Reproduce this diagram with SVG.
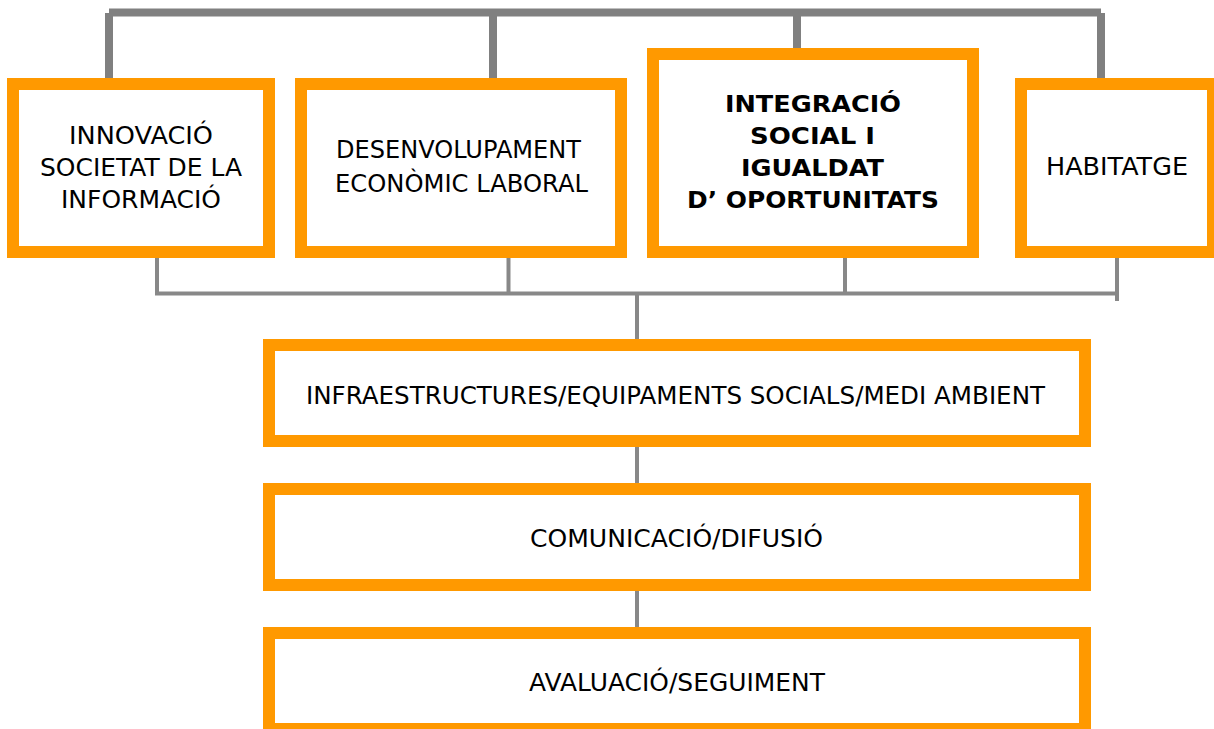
<svg xmlns="http://www.w3.org/2000/svg" width="1214" height="729" viewBox="0 0 1214 729">
<style>
.box{fill:#fff;stroke:#FF9900;stroke-width:12}
.t{font-family:"DejaVu Sans","Liberation Sans",sans-serif;font-size:25px;fill:#000}
.b{font-weight:bold;font-size:23.5px}
.c1{stroke:#808080;stroke-width:8;fill:none}
.c2{stroke:#888;stroke-width:4;fill:none}
</style>
<rect width="1214" height="729" fill="#fff"/>
<g id="connectors">
<line class="c1" x1="109" y1="12.5" x2="1101" y2="12.5"/>
<line class="c1" x1="109" y1="13" x2="109" y2="84"/>
<line class="c1" x1="493" y1="13" x2="493" y2="84"/>
<line class="c1" x1="797" y1="13" x2="797" y2="54"/>
<line class="c1" x1="1101" y1="13" x2="1101" y2="84"/>
<line class="c2" x1="155" y1="293.5" x2="1117" y2="293.5"/>
<line class="c2" x1="157" y1="246" x2="157" y2="293.5"/>
<line class="c2" x1="508.5" y1="246" x2="508.5" y2="293.5"/>
<line class="c2" x1="845" y1="246" x2="845" y2="293.5"/>
<line class="c2" x1="1117" y1="253" x2="1117" y2="301"/>
<line class="c2" x1="637" y1="294" x2="637" y2="342"/>
<line class="c2" x1="637" y1="441" x2="637" y2="489"/>
<line class="c2" x1="637" y1="585" x2="637" y2="633"/>
</g>
<g id="n1">
<rect class="box" x="13" y="84" width="256" height="168"/>
<text class="t" x="69" y="143.5" textLength="144" lengthAdjust="spacingAndGlyphs">INNOVACIÓ</text>
<text class="t" x="40" y="176" textLength="202" lengthAdjust="spacingAndGlyphs">SOCIETAT DE LA</text>
<text class="t" x="61" y="207.5" textLength="160" lengthAdjust="spacingAndGlyphs">INFORMACIÓ</text>
</g>
<g id="n2">
<rect class="box" x="301" y="84" width="320" height="168"/>
<text class="t" x="336" y="157.5" textLength="245" lengthAdjust="spacingAndGlyphs">DESENVOLUPAMENT</text>
<text class="t" x="335" y="191.5" textLength="253" lengthAdjust="spacingAndGlyphs">ECONÒMIC LABORAL</text>
</g>
<g id="n3">
<rect class="box" x="653" y="54" width="320" height="198"/>
<text class="t b" x="725" y="111.5" textLength="176" lengthAdjust="spacingAndGlyphs">INTEGRACIÓ</text>
<text class="t b" x="750" y="143.5" textLength="125" lengthAdjust="spacingAndGlyphs">SOCIAL I</text>
<text class="t b" x="741" y="176" textLength="143" lengthAdjust="spacingAndGlyphs">IGUALDAT</text>
<text class="t b" x="687" y="207.5" textLength="252" lengthAdjust="spacingAndGlyphs">D’ OPORTUNITATS</text>
</g>
<g id="n4">
<rect class="box" x="1021" y="84" width="192" height="168"/>
<text class="t" x="1046" y="174.5" textLength="142" lengthAdjust="spacingAndGlyphs">HABITATGE</text>
</g>
<g id="n5">
<rect class="box" x="269" y="345" width="816" height="96"/>
<text class="t" x="306" y="403.5" textLength="739" lengthAdjust="spacingAndGlyphs">INFRAESTRUCTURES/EQUIPAMENTS SOCIALS/MEDI AMBIENT</text>
</g>
<g id="n6">
<rect class="box" x="269" y="489" width="816" height="96"/>
<text class="t" x="530" y="546.5" textLength="293" lengthAdjust="spacingAndGlyphs">COMUNICACIÓ/DIFUSIÓ</text>
</g>
<g id="n7">
<rect class="box" x="269" y="633" width="816" height="96"/>
<text class="t" x="529" y="690.5" textLength="296" lengthAdjust="spacingAndGlyphs">AVALUACIÓ/SEGUIMENT</text>
</g>
</svg>
